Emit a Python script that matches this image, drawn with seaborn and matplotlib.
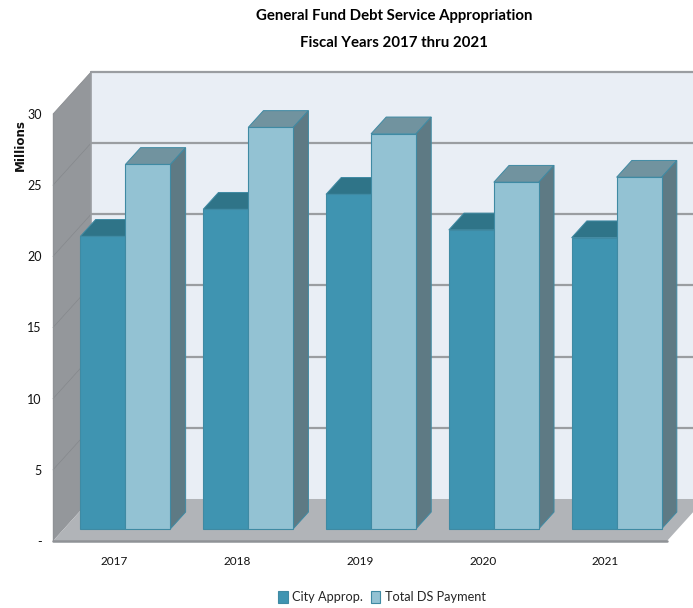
# General Fund debt service chart, fake 3D box look on top of a seaborn barplot
import matplotlib
matplotlib.use("Agg")
import matplotlib.pyplot as plt
from matplotlib.patches import Polygon
import pandas as pd
import seaborn as sns

years = ["2017", "2018", "2019", "2020", "2021"]
city_approp = [20.55, 22.45, 23.5, 21.0, 20.45]
total_ds = [25.6, 28.2, 27.75, 24.35, 24.7]
series_names = ["City Approp.", "Total DS Payment"]
y_ticks = [0, 5, 10, 15, 20, 25, 30]
y_tick_labels = ["-", "5", "10", "15", "20", "25", "30"]

sns.set_theme(style="white")
# no condensed Calibri here, Lato is the narrowest of what is installed
plt.rcParams["font.family"] = ["Lato", "DejaVu Sans"]

# depth offset of the back wall, in data units
DX = 38 / 122.8
DY = 42 / 14.23
BAR_FRONT = 0.29
BAR_BACK = 0.69

FRONT = ["#3f94b1", "#93c2d3"]
TOP = ["#2f7488", "#71939f"]
SIDE = ["#2f7488", "#5e7a84"]
EDGE = "#3f8aa3"
GRID = "#9a9da1"

df = pd.DataFrame({
    "year": years * 2,
    "value": city_approp + total_ds,
    "series": [series_names[0]] * 5 + [series_names[1]] * 5,
})

fig = plt.figure(figsize=(6.93, 6.08), dpi=100)
ax = fig.add_axes([53 / 693, 67 / 608, 614 / 693, 427 / 608])
ax.patch.set_visible(False)

sns.barplot(data=df, x="year", y="value", hue="series", hue_order=series_names,
            palette=FRONT, saturation=1, width=0.733, gap=0, errorbar=None,
            edgecolor=EDGE, linewidth=0.8, ax=ax, zorder=5)
ax.set_xlim(-0.5, 4.5)
ax.set_ylim(0, 30)
ax.set_xlabel("")
ax.set_ylabel("")
sns.despine(ax=ax, left=True, bottom=True)


def shape(points, color, z, edge="none"):
    ax.add_patch(Polygon(points, closed=True, facecolor=color, edgecolor=edge,
                         linewidth=0.7, zorder=z, clip_on=False))


# walls and floor
x0, x1 = ax.get_xlim()
top = y_ticks[-1]
shape([(x0 + DX, DY), (x1 + DX, DY), (x1 + DX, top + DY), (x0 + DX, top + DY)], "#e9eef5", 1)
shape([(x0, 0), (x0 + DX, DY), (x0 + DX, top + DY), (x0, top)], "#94979b", 1)
shape([(x0, 0), (x1, 0), (x1 + DX, DY), (x0 + DX, DY)], "#b1b4b8", 1)

for t in y_ticks:
    if t > 0:
        ax.plot([x0 + DX, x1 + DX], [t + DY, t + DY], color=GRID, lw=1.6, zorder=2, clip_on=False)
        ax.plot([x0, x0 + DX], [t, t + DY], color="#85888c", lw=0.5, zorder=2, clip_on=False)
ax.plot([x0 + DX, x0 + DX], [DY, top + DY], color=GRID, lw=1.2, zorder=2, clip_on=False)
ax.plot([x0, x1], [0, 0], color="#8f9296", lw=1.8, zorder=3, clip_on=False)
ax.plot([x0, x0], [0, top], color="#8f9296", lw=1.0, zorder=3, clip_on=False)

# push the bars back onto the floor and add the top and side faces
dd = BAR_BACK - BAR_FRONT
for i, bars in enumerate(ax.containers):
    z = 5 + 2 * i
    for bar in bars:
        h = bar.get_height()
        left = bar.get_x() + BAR_FRONT * DX
        right = left + bar.get_width()
        base = BAR_FRONT * DY
        bar.set_x(left)
        bar.set_y(base)
        bar.set_zorder(z + 1)
        bar.set_clip_on(False)
        shape([(left, base + h), (right, base + h),
               (right + dd * DX, base + h + dd * DY), (left + dd * DX, base + h + dd * DY)],
              TOP[i], z, EDGE)
        shape([(right, base), (right + dd * DX, base + dd * DY),
               (right + dd * DX, base + h + dd * DY), (right, base + h)],
              SIDE[i], z, EDGE)

ax.set_yticks(y_ticks)
ax.set_yticklabels(y_tick_labels)
ax.tick_params(axis="y", length=0, pad=8, labelsize=9, labelcolor="#111111")
ax.tick_params(axis="x", length=0, pad=11, labelsize=8.5, labelcolor="#111111")

fig.text(20 / 693, 1 - 145 / 608, "Millions", rotation=90, ha="center", va="center",
         fontsize=8.6, fontweight="bold", family="DejaVu Sans", color="#111111")
fig.text(394 / 693, 1 - 16 / 608, "General Fund Debt Service Appropriation",
         ha="center", va="center", fontsize=10.8, fontweight="bold", color="black")
fig.text(394 / 693, 1 - 43 / 608, "Fiscal Years 2017 thru 2021",
         ha="center", va="center", fontsize=10.8, fontweight="bold", color="black")

sns.move_legend(ax, "center", bbox_to_anchor=(382 / 693, 1 - 597 / 608),
                bbox_transform=fig.transFigure, ncol=2, title=None, frameon=False,
                fontsize=9.2, handlelength=0.75, handleheight=1.1, handletextpad=0.35,
                columnspacing=0.6, borderpad=0)

fig.savefig("out.png", dpi=100)
